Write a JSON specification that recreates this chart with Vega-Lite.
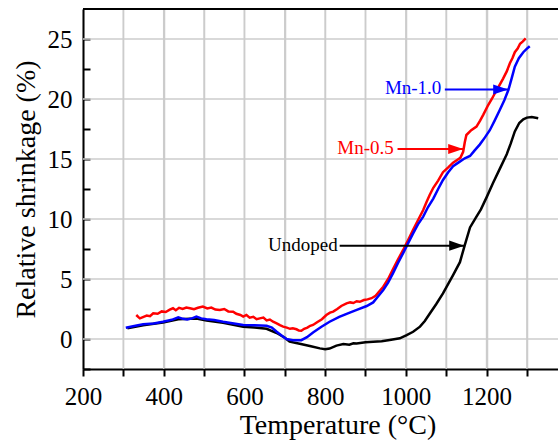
{
  "$schema": "https://vega.github.io/schema/vega-lite/v6.json",
  "width": 475,
  "height": 360,
  "autosize": "none",
  "padding": {"left": 83, "top": 9, "right": 0, "bottom": 72},
  "background": "white",
  "config": {"view": {"stroke": null}, "font": "Liberation Serif"},
  "datasets": {
    "gridx": [{"g": 300}, {"g": 400}, {"g": 500}, {"g": 600}, {"g": 700}, {"g": 800}, {"g": 900}, {"g": 1000}, {"g": 1100}, {"g": 1200}, {"g": 1300}],
    "gridy": [{"g": 0}, {"g": 5}, {"g": 10}, {"g": 15}, {"g": 20}, {"g": 25}],
    "curves": [
      {"series": "Undoped", "T": 310, "v": 0.9}, {"series": "Undoped", "T": 349, "v": 1.15}, {"series": "Undoped", "T": 398, "v": 1.38}, {"series": "Undoped", "T": 436, "v": 1.65}, {"series": "Undoped", "T": 481, "v": 1.7}, {"series": "Undoped", "T": 506, "v": 1.55}, {"series": "Undoped", "T": 547, "v": 1.35}, {"series": "Undoped", "T": 597, "v": 1.03}, {"series": "Undoped", "T": 625, "v": 0.95}, {"series": "Undoped", "T": 655, "v": 0.85}, {"series": "Undoped", "T": 680, "v": 0.5}, {"series": "Undoped", "T": 700, "v": 0.1}, {"series": "Undoped", "T": 712, "v": -0.22}, {"series": "Undoped", "T": 737, "v": -0.4}, {"series": "Undoped", "T": 762, "v": -0.58}, {"series": "Undoped", "T": 787, "v": -0.78}, {"series": "Undoped", "T": 800, "v": -0.85}, {"series": "Undoped", "T": 811, "v": -0.8}, {"series": "Undoped", "T": 828, "v": -0.55}, {"series": "Undoped", "T": 845, "v": -0.42}, {"series": "Undoped", "T": 860, "v": -0.47}, {"series": "Undoped", "T": 870, "v": -0.35}, {"series": "Undoped", "T": 878, "v": -0.38}, {"series": "Undoped", "T": 900, "v": -0.28}, {"series": "Undoped", "T": 919, "v": -0.22}, {"series": "Undoped", "T": 940, "v": -0.18}, {"series": "Undoped", "T": 960, "v": -0.08}, {"series": "Undoped", "T": 985, "v": 0.06}, {"series": "Undoped", "T": 1002, "v": 0.33}, {"series": "Undoped", "T": 1018, "v": 0.6}, {"series": "Undoped", "T": 1035, "v": 1.03}, {"series": "Undoped", "T": 1047, "v": 1.5}, {"series": "Undoped", "T": 1059, "v": 2.1}, {"series": "Undoped", "T": 1075, "v": 2.9}, {"series": "Undoped", "T": 1092, "v": 3.8}, {"series": "Undoped", "T": 1105, "v": 4.6}, {"series": "Undoped", "T": 1117, "v": 5.33}, {"series": "Undoped", "T": 1134, "v": 6.4}, {"series": "Undoped", "T": 1146, "v": 7.83}, {"series": "Undoped", "T": 1159, "v": 9.3}, {"series": "Undoped", "T": 1175, "v": 10.2}, {"series": "Undoped", "T": 1186, "v": 10.8}, {"series": "Undoped", "T": 1200, "v": 11.8}, {"series": "Undoped", "T": 1216, "v": 13.0}, {"series": "Undoped", "T": 1233, "v": 14.2}, {"series": "Undoped", "T": 1250, "v": 15.4}, {"series": "Undoped", "T": 1260, "v": 16.3}, {"series": "Undoped", "T": 1270, "v": 17.3}, {"series": "Undoped", "T": 1281, "v": 18.0}, {"series": "Undoped", "T": 1291, "v": 18.3}, {"series": "Undoped", "T": 1300, "v": 18.45}, {"series": "Undoped", "T": 1312, "v": 18.5}, {"series": "Undoped", "T": 1328, "v": 18.4},

      {"series": "Mn-0.5", "T": 332, "v": 2.0}, {"series": "Mn-0.5", "T": 338, "v": 1.8}, {"series": "Mn-0.5", "T": 341, "v": 1.72}, {"series": "Mn-0.5", "T": 350, "v": 1.85}, {"series": "Mn-0.5", "T": 358, "v": 1.95}, {"series": "Mn-0.5", "T": 366, "v": 1.9}, {"series": "Mn-0.5", "T": 374, "v": 2.14}, {"series": "Mn-0.5", "T": 385, "v": 2.1}, {"series": "Mn-0.5", "T": 395, "v": 2.3}, {"series": "Mn-0.5", "T": 405, "v": 2.25}, {"series": "Mn-0.5", "T": 415, "v": 2.45}, {"series": "Mn-0.5", "T": 423, "v": 2.56}, {"series": "Mn-0.5", "T": 430, "v": 2.4}, {"series": "Mn-0.5", "T": 438, "v": 2.6}, {"series": "Mn-0.5", "T": 447, "v": 2.5}, {"series": "Mn-0.5", "T": 456, "v": 2.62}, {"series": "Mn-0.5", "T": 465, "v": 2.56}, {"series": "Mn-0.5", "T": 475, "v": 2.48}, {"series": "Mn-0.5", "T": 485, "v": 2.6}, {"series": "Mn-0.5", "T": 497, "v": 2.7}, {"series": "Mn-0.5", "T": 508, "v": 2.55}, {"series": "Mn-0.5", "T": 518, "v": 2.62}, {"series": "Mn-0.5", "T": 528, "v": 2.45}, {"series": "Mn-0.5", "T": 539, "v": 2.42}, {"series": "Mn-0.5", "T": 550, "v": 2.5}, {"series": "Mn-0.5", "T": 560, "v": 2.3}, {"series": "Mn-0.5", "T": 572, "v": 2.28}, {"series": "Mn-0.5", "T": 580, "v": 2.1}, {"series": "Mn-0.5", "T": 590, "v": 2.0}, {"series": "Mn-0.5", "T": 597, "v": 1.86}, {"series": "Mn-0.5", "T": 605, "v": 2.0}, {"series": "Mn-0.5", "T": 613, "v": 1.78}, {"series": "Mn-0.5", "T": 622, "v": 1.85}, {"series": "Mn-0.5", "T": 630, "v": 1.65}, {"series": "Mn-0.5", "T": 638, "v": 1.72}, {"series": "Mn-0.5", "T": 647, "v": 1.78}, {"series": "Mn-0.5", "T": 655, "v": 1.55}, {"series": "Mn-0.5", "T": 663, "v": 1.62}, {"series": "Mn-0.5", "T": 671, "v": 1.44}, {"series": "Mn-0.5", "T": 680, "v": 1.3}, {"series": "Mn-0.5", "T": 688, "v": 1.15}, {"series": "Mn-0.5", "T": 696, "v": 1.03}, {"series": "Mn-0.5", "T": 705, "v": 0.95}, {"series": "Mn-0.5", "T": 713, "v": 0.85}, {"series": "Mn-0.5", "T": 720, "v": 0.9}, {"series": "Mn-0.5", "T": 729, "v": 0.81}, {"series": "Mn-0.5", "T": 735, "v": 0.7}, {"series": "Mn-0.5", "T": 741, "v": 0.69}, {"series": "Mn-0.5", "T": 748, "v": 0.85}, {"series": "Mn-0.5", "T": 756, "v": 0.95}, {"series": "Mn-0.5", "T": 763, "v": 1.1}, {"series": "Mn-0.5", "T": 770, "v": 1.17}, {"series": "Mn-0.5", "T": 780, "v": 1.4}, {"series": "Mn-0.5", "T": 792, "v": 1.65}, {"series": "Mn-0.5", "T": 803, "v": 2.0}, {"series": "Mn-0.5", "T": 812, "v": 2.2}, {"series": "Mn-0.5", "T": 820, "v": 2.28}, {"series": "Mn-0.5", "T": 830, "v": 2.5}, {"series": "Mn-0.5", "T": 840, "v": 2.75}, {"series": "Mn-0.5", "T": 853, "v": 2.97}, {"series": "Mn-0.5", "T": 862, "v": 3.05}, {"series": "Mn-0.5", "T": 870, "v": 3.0}, {"series": "Mn-0.5", "T": 878, "v": 3.15}, {"series": "Mn-0.5", "T": 886, "v": 3.1}, {"series": "Mn-0.5", "T": 896, "v": 3.25}, {"series": "Mn-0.5", "T": 905, "v": 3.3}, {"series": "Mn-0.5", "T": 915, "v": 3.4}, {"series": "Mn-0.5", "T": 925, "v": 3.6}, {"series": "Mn-0.5", "T": 935, "v": 4.0}, {"series": "Mn-0.5", "T": 944, "v": 4.36}, {"series": "Mn-0.5", "T": 956, "v": 5.0}, {"series": "Mn-0.5", "T": 968, "v": 5.8}, {"series": "Mn-0.5", "T": 980, "v": 6.6}, {"series": "Mn-0.5", "T": 993, "v": 7.4}, {"series": "Mn-0.5", "T": 1005, "v": 8.2}, {"series": "Mn-0.5", "T": 1018, "v": 9.1}, {"series": "Mn-0.5", "T": 1030, "v": 9.9}, {"series": "Mn-0.5", "T": 1043, "v": 10.75}, {"series": "Mn-0.5", "T": 1051, "v": 11.4}, {"series": "Mn-0.5", "T": 1059, "v": 12.0}, {"series": "Mn-0.5", "T": 1068, "v": 12.6}, {"series": "Mn-0.5", "T": 1080, "v": 13.2}, {"series": "Mn-0.5", "T": 1092, "v": 13.9}, {"series": "Mn-0.5", "T": 1105, "v": 14.3}, {"series": "Mn-0.5", "T": 1117, "v": 14.7}, {"series": "Mn-0.5", "T": 1126, "v": 14.9}, {"series": "Mn-0.5", "T": 1135, "v": 15.1}, {"series": "Mn-0.5", "T": 1142, "v": 15.6}, {"series": "Mn-0.5", "T": 1146, "v": 16.4}, {"series": "Mn-0.5", "T": 1150, "v": 17.0}, {"series": "Mn-0.5", "T": 1162, "v": 17.4}, {"series": "Mn-0.5", "T": 1175, "v": 17.7}, {"series": "Mn-0.5", "T": 1184, "v": 18.2}, {"series": "Mn-0.5", "T": 1192, "v": 18.7}, {"series": "Mn-0.5", "T": 1204, "v": 19.5}, {"series": "Mn-0.5", "T": 1213, "v": 20.0}, {"series": "Mn-0.5", "T": 1221, "v": 20.5}, {"series": "Mn-0.5", "T": 1231, "v": 21.1}, {"series": "Mn-0.5", "T": 1241, "v": 21.7}, {"series": "Mn-0.5", "T": 1250, "v": 22.3}, {"series": "Mn-0.5", "T": 1258, "v": 23.0}, {"series": "Mn-0.5", "T": 1264, "v": 23.4}, {"series": "Mn-0.5", "T": 1270, "v": 23.9}, {"series": "Mn-0.5", "T": 1277, "v": 24.2}, {"series": "Mn-0.5", "T": 1283, "v": 24.6}, {"series": "Mn-0.5", "T": 1290, "v": 24.8}, {"series": "Mn-0.5", "T": 1297, "v": 25.05},

      {"series": "Mn-1.0", "T": 306, "v": 0.94}, {"series": "Mn-1.0", "T": 330, "v": 1.1}, {"series": "Mn-1.0", "T": 349, "v": 1.22}, {"series": "Mn-1.0", "T": 375, "v": 1.3}, {"series": "Mn-1.0", "T": 398, "v": 1.44}, {"series": "Mn-1.0", "T": 420, "v": 1.6}, {"series": "Mn-1.0", "T": 436, "v": 1.81}, {"series": "Mn-1.0", "T": 448, "v": 1.68}, {"series": "Mn-1.0", "T": 458, "v": 1.62}, {"series": "Mn-1.0", "T": 470, "v": 1.72}, {"series": "Mn-1.0", "T": 481, "v": 1.86}, {"series": "Mn-1.0", "T": 493, "v": 1.72}, {"series": "Mn-1.0", "T": 506, "v": 1.64}, {"series": "Mn-1.0", "T": 525, "v": 1.58}, {"series": "Mn-1.0", "T": 547, "v": 1.44}, {"series": "Mn-1.0", "T": 570, "v": 1.32}, {"series": "Mn-1.0", "T": 597, "v": 1.17}, {"series": "Mn-1.0", "T": 625, "v": 1.14}, {"series": "Mn-1.0", "T": 655, "v": 1.1}, {"series": "Mn-1.0", "T": 668, "v": 0.95}, {"series": "Mn-1.0", "T": 680, "v": 0.61}, {"series": "Mn-1.0", "T": 692, "v": 0.3}, {"series": "Mn-1.0", "T": 704, "v": 0.0}, {"series": "Mn-1.0", "T": 720, "v": -0.1}, {"series": "Mn-1.0", "T": 741, "v": -0.1}, {"series": "Mn-1.0", "T": 755, "v": 0.15}, {"series": "Mn-1.0", "T": 770, "v": 0.55}, {"series": "Mn-1.0", "T": 790, "v": 1.0}, {"series": "Mn-1.0", "T": 811, "v": 1.44}, {"series": "Mn-1.0", "T": 835, "v": 1.85}, {"series": "Mn-1.0", "T": 861, "v": 2.2}, {"series": "Mn-1.0", "T": 880, "v": 2.45}, {"series": "Mn-1.0", "T": 903, "v": 2.75}, {"series": "Mn-1.0", "T": 919, "v": 3.05}, {"series": "Mn-1.0", "T": 930, "v": 3.5}, {"series": "Mn-1.0", "T": 944, "v": 4.08}, {"series": "Mn-1.0", "T": 956, "v": 4.7}, {"series": "Mn-1.0", "T": 968, "v": 5.47}, {"series": "Mn-1.0", "T": 980, "v": 6.3}, {"series": "Mn-1.0", "T": 993, "v": 7.14}, {"series": "Mn-1.0", "T": 1005, "v": 7.95}, {"series": "Mn-1.0", "T": 1018, "v": 8.8}, {"series": "Mn-1.0", "T": 1030, "v": 9.55}, {"series": "Mn-1.0", "T": 1043, "v": 10.2}, {"series": "Mn-1.0", "T": 1055, "v": 11.0}, {"series": "Mn-1.0", "T": 1068, "v": 11.7}, {"series": "Mn-1.0", "T": 1080, "v": 12.5}, {"series": "Mn-1.0", "T": 1092, "v": 13.25}, {"series": "Mn-1.0", "T": 1105, "v": 13.9}, {"series": "Mn-1.0", "T": 1117, "v": 14.4}, {"series": "Mn-1.0", "T": 1130, "v": 14.7}, {"series": "Mn-1.0", "T": 1146, "v": 15.06}, {"series": "Mn-1.0", "T": 1159, "v": 15.25}, {"series": "Mn-1.0", "T": 1170, "v": 15.7}, {"series": "Mn-1.0", "T": 1183, "v": 16.2}, {"series": "Mn-1.0", "T": 1196, "v": 16.8}, {"series": "Mn-1.0", "T": 1208, "v": 17.4}, {"series": "Mn-1.0", "T": 1220, "v": 18.2}, {"series": "Mn-1.0", "T": 1233, "v": 19.1}, {"series": "Mn-1.0", "T": 1244, "v": 19.9}, {"series": "Mn-1.0", "T": 1254, "v": 20.75}, {"series": "Mn-1.0", "T": 1262, "v": 21.7}, {"series": "Mn-1.0", "T": 1270, "v": 22.7}, {"series": "Mn-1.0", "T": 1280, "v": 23.4}, {"series": "Mn-1.0", "T": 1291, "v": 23.9}, {"series": "Mn-1.0", "T": 1300, "v": 24.2}, {"series": "Mn-1.0", "T": 1307, "v": 24.4}
    ],
    "notes": [
      {"series": "Mn-1.0", "tx": 1088, "x": 1096.6, "x2": 1253.6, "y": 20.8},
      {"series": "Mn-0.5", "tx": 970, "x": 979.4, "x2": 1142, "y": 15.83},
      {"series": "Undoped", "tx": 831, "x": 836, "x2": 1144.5, "y": 7.78}
    ]
  },
  "encoding": {
    "x": {"type": "quantitative", "title": "Temperature (°C)", "scale": {"domain": [200, 1377], "nice": false, "zero": false},
      "axis": {"values": [200, 300, 400, 500, 600, 700, 800, 900, 1000, 1100, 1200, 1300],
        "labelExpr": "datum.value % 200 === 0 && datum.value <= 1200 ? format(datum.value, 'd') : ''",
        "tickSize": 7, "labelPadding": 8,
        "grid": true, "gridColor": "#cccccc", "gridWidth": 1.5,
        "labelFont": "Liberation Serif", "titleFont": "Liberation Serif",
        "labelFontSize": 25, "titleFontSize": 28, "titleFontWeight": "normal",
        "labelColor": "#000000", "titleColor": "#000000",
        "tickColor": "#000000", "tickWidth": 2, "domainColor": "#000000", "domainWidth": 2,
        "labelFlush": false,
        "titleX": 254.5, "titleY": 64, "titleBaseline": "alphabetic", "titleAlign": "center"}},
    "y": {"type": "quantitative", "title": "Relative shrinkage (%)", "scale": {"domain": [-2.5, 27.5], "nice": false, "zero": false},
      "axis": {"values": [-2.5, 0, 2.5, 5, 7.5, 10, 12.5, 15, 17.5, 20, 22.5, 25],
        "labelExpr": "datum.value % 5 === 0 ? format(datum.value, 'd') : ''",
        "tickSize": -7, "labelPadding": 18,
        "grid": false,
        "labelFont": "Liberation Serif", "titleFont": "Liberation Serif",
        "labelFontSize": 25, "titleFontSize": 28, "titleFontWeight": "normal",
        "labelColor": "#000000", "titleColor": "#000000",
        "tickColor": "#000000", "tickWidth": 2, "domainColor": "#000000", "domainWidth": 2,
        "labelFlush": false,
        "titleX": -57, "titleY": 180, "titleAngle": 270, "titleBaseline": "middle", "titleAlign": "center"}},
    "color": {"field": "series", "type": "nominal", "scale": {"domain": ["Undoped", "Mn-0.5", "Mn-1.0"], "range": ["#000000", "#ff0000", "#0000ff"]}, "legend": null}
  },
  "layer": [
    {
      "data": {"name": "gridx"},
      "mark": {"type": "rule", "strokeWidth": 1.5, "color": "#cccccc"},
      "encoding": {"x": {"field": "g"}, "color": null}
    },
    {
      "data": {"name": "gridy"},
      "mark": {"type": "rule", "strokeWidth": 1.5, "color": "#cccccc"},
      "encoding": {"x": null, "y": {"field": "g"}, "color": null}
    },
    {
      "data": {"name": "curves"},
      "transform": [{"filter": "datum.series === 'Undoped'"}],
      "mark": {"type": "line", "strokeWidth": 2.5, "clip": true},
      "encoding": {"x": {"field": "T"}, "y": {"field": "v"}}
    },
    {
      "data": {"name": "curves"},
      "transform": [{"filter": "datum.series === 'Mn-0.5'"}],
      "mark": {"type": "line", "strokeWidth": 2.5, "clip": true},
      "encoding": {"x": {"field": "T"}, "y": {"field": "v"}}
    },
    {
      "data": {"name": "curves"},
      "transform": [{"filter": "datum.series === 'Mn-1.0'"}],
      "mark": {"type": "line", "strokeWidth": 2.5, "clip": true},
      "encoding": {"x": {"field": "T"}, "y": {"field": "v"}}
    },
    {
      "data": {"name": "notes"},
      "mark": {"type": "rule", "strokeWidth": 2},
      "encoding": {"x": {"field": "x"}, "x2": {"field": "x2"}, "y": {"field": "y"}}
    },
    {
      "data": {"name": "notes"},
      "mark": {"type": "point", "filled": true, "opacity": 1, "size": 225, "strokeWidth": 0, "shape": "M -2,-0.67 L 0,0 L -2,0.67 Z"},
      "encoding": {"x": {"field": "x2"}, "y": {"field": "y"}}
    },
    {
      "data": {"name": "notes"},
      "mark": {"type": "text", "align": "right", "baseline": "middle", "font": "Liberation Serif", "fontSize": 19, "dy": -1},
      "encoding": {"x": {"field": "tx"}, "y": {"field": "y"}, "text": {"field": "series"}}
    },
    {
      "data": {"values": [{}]},
      "mark": {"type": "rule", "strokeWidth": 2, "color": "black"},
      "encoding": {"x": null, "color": null, "y": {"datum": 27.5}}
    }
  ]
}
